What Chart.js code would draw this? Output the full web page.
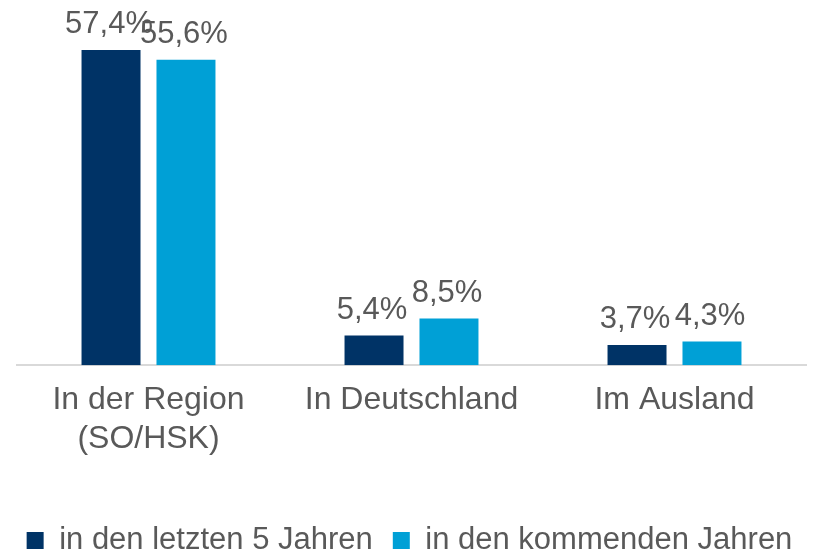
<!DOCTYPE html>
<html>
<head>
<meta charset="utf-8">
<script src="https://cdn.jsdelivr.net/npm/chart.js@4"></script>
<style>
  html, body { margin: 0; padding: 0; background: #fff; }
  #wrap { width: 819px; height: 554px; }
</style>
</head>
<body>
<div id="wrap"><canvas id="chart"></canvas></div>
<script>
const categories = [["In der Region", "(SO/HSK)"], "In Deutschland", "Im Ausland"];
const seriesNames = ["in den letzten 5 Jahren", "in den kommenden Jahren"];
const lastFiveYears = [57.4, 5.4, 3.7];
const comingYears = [55.6, 8.5, 4.3];

const textColor = "#595959";
const fontFamily = "'Liberation Sans', Arial, sans-serif";

// draws the percentage above each bar
const valueLabels = {
    id: "valueLabels",
    afterDatasetsDraw(chart) {
        const ctx = chart.ctx;
        ctx.save();
        ctx.font = "31px " + fontFamily;
        ctx.fillStyle = textColor;
        ctx.textAlign = "center";
        ctx.textBaseline = "alphabetic";
        chart.data.datasets.forEach((ds, i) => {
            chart.getDatasetMeta(i).data.forEach((bar, j) => {
                const txt = ds.data[j].toFixed(1).replace(".", ",") + "%";
                ctx.fillText(txt, bar.x - 2, bar.y - 17);
            });
        });
        ctx.restore();
    }
};

const chart = document.querySelector("#chart").getContext("2d");

new Chart(chart, {
    type: "bar",
    data: {
        labels: categories,
        datasets: [
            {
                label: seriesNames[0],
                data: lastFiveYears,
                backgroundColor: "#003366",
            },
            {
                label: seriesNames[1],
                data: comingYears,
                backgroundColor: "#00A0D6",
            },
        ]
    },
    options: {
        responsive: true,
        maintainAspectRatio: false,
        animation: false,
        categoryPercentage: 0.57,
        barPercentage: 0.787,
        layout: {
            padding: 0
        },
        scales: {
            x: {
                grid: { display: false, drawTicks: false },
                border: { display: true, color: "#d9d9d9", width: 2 },
                ticks: {
                    color: textColor,
                    padding: 16,
                    font: { size: 32, family: fontFamily, lineHeight: 1.2 },
                },
                afterFit(scale) { scale.height += 31; },
            },
            y: {
                min: 0,
                max: 66.5,
                grid: { display: false },
                border: { display: false },
                ticks: { display: false },
                afterFit(scale) { scale.width = 17; },
            },
            // empty axis, only keeps the right margin
            y2: {
                position: "right",
                grid: { display: false },
                border: { display: false },
                ticks: { display: false },
                afterFit(scale) { scale.width = 13; },
            },
        },
        plugins: {
            tooltip: { enabled: false },
            legend: {
                position: "bottom",
                maxHeight: 49,
                labels: {
                    color: textColor,
                    boxWidth: 17,
                    boxHeight: 17,
                    padding: 20,
                    font: { size: 31, family: fontFamily },
                },
            },
        },
    },
    plugins: [valueLabels],
});
</script>
</body>
</html>
